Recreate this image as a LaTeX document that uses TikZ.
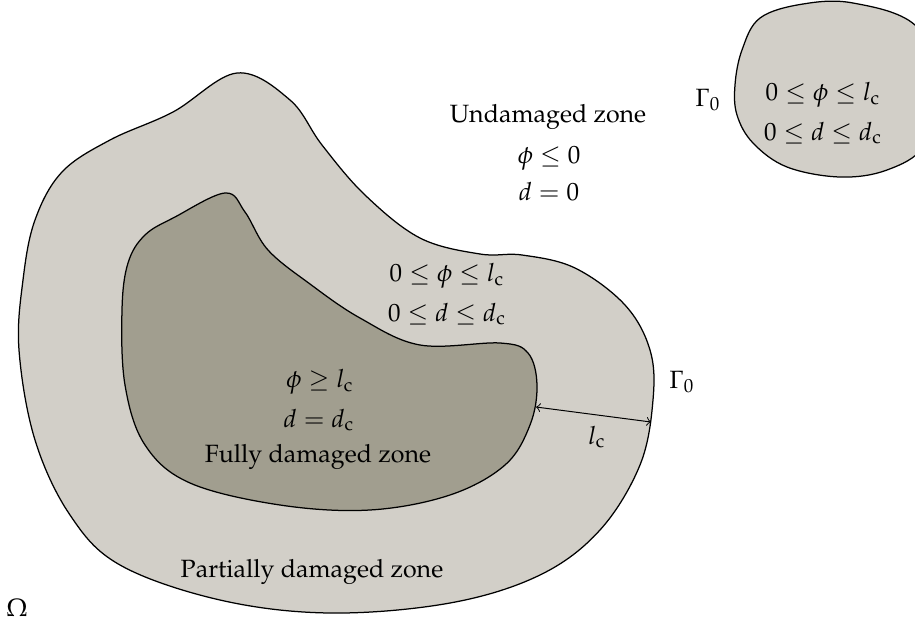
\documentclass[tikz,border=0pt]{standalone}
\usepackage[T1]{fontenc}
\usepackage{mathpazo}
\usepackage{amsmath}

\definecolor{partial}{RGB}{210,207,200}
\definecolor{fully}{RGB}{161,158,143}

\begin{document}
\begin{tikzpicture}[x=0.4pt,y=-0.4pt,line width=0.5pt,
  zone/.style={draw=black,smooth cycle,tension=0.6},
  lbl/.style={inner sep=1pt}]
  \useasboundingbox (0,0) rectangle (915,628);
  % zona parcialmente danada (contorno Gamma_0)
  \filldraw[fill=partial] plot[zone] coordinates {(237,73) (290,100) (322,145) (365,195)
    (420,238) (480,254) (522,255) (575,268) (625,305) (650,350) (653,400) (640,465)
    (600,530) (540,575) (450,603) (330,613) (220,600) (120,565) (70,515) (35,440)
    (19,350) (23,280) (35,220) (62,172) (110,140) (173,112)};
  % zona totalmente danada
  \filldraw[fill=fully] plot[zone] coordinates {(225,193) (245,212) (268,250) (310,284)
    (360,318) (420,345) (500,343) (528,353) (537,385) (530,425) (505,465) (450,495)
    (370,510) (280,505) (190,483) (145,445) (125,385) (122,310) (128,263) (145,235)
    (175,217)};
  % zona aislada arriba a la derecha
  \filldraw[fill=partial] plot[zone] coordinates {(803,4) (853,3) (915,25) (945,85)
    (925,145) (887,170) (840,177) (787,167) (753,143) (737,115) (735,85) (742,50)
    (760,18)};
  % espesor l_c
  \coordinate (lcin) at (536,407);
  \coordinate (lcout) at (651,422);
  \draw[<->,line width=0.4pt] (lcin) -- (lcout);
  \node[lbl] (lc) at (597,437) {$l_{\mathrm{c}}$};
  % textos
  \node[lbl] (undam) at (548,117) {Undamaged zone};
  \node[lbl] (undphi) at (549,158) {$\phi \le 0$};
  \node[lbl] (undd) at (549,192) {$d = 0$};
  \node[lbl] (partphi) at (447,276) {$0 \le \phi \le l_{\mathrm{c}}$};
  \node[lbl] (partd) at (447,314) {$0 \le d \le d_{\mathrm{c}}$};
  \node[lbl] (fullphi) at (320,382) {$\phi \ge l_{\mathrm{c}}$};
  \node[lbl] (fulld) at (319,420) {$d = d_{\mathrm{c}}$};
  \node[lbl] (fully) at (318,457) {Fully damaged zone};
  \node[lbl] (partial) at (312,572) {Partially damaged zone};
  \node[lbl] (omega) at (17,608) {$\Omega$};
  \node[lbl] (gamma) at (682,382) {$\Gamma_0$};
  \node[lbl] (gammasm) at (708,100) {$\Gamma_0$};
  \node[lbl] (smphi) at (823,95) {$0 \le \phi \le l_{\mathrm{c}}$};
  \node[lbl] (smd) at (823,133) {$0 \le d \le d_{\mathrm{c}}$};
\end{tikzpicture}
\end{document}
